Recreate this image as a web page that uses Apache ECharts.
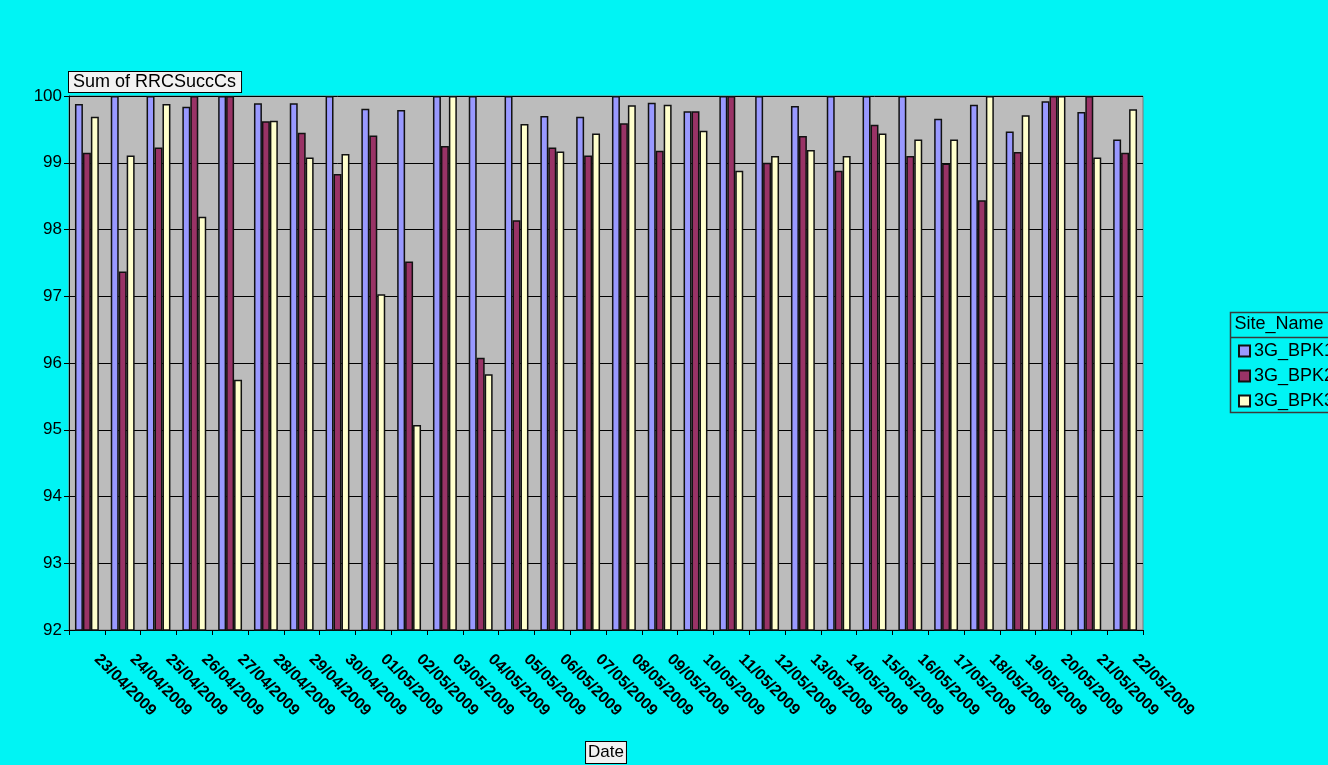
<!DOCTYPE html>
<html>
<head>
<meta charset="utf-8">
<title>Sum of RRCSuccCs</title>
<script src="https://cdn.jsdelivr.net/npm/echarts@6/dist/echarts.min.js"></script>
<style>
  html, body { margin: 0; padding: 0; background: #00f4f4; }
  #chart { width: 1328px; height: 765px; }
</style>
</head>
<body>
<div id="chart"></div>
<script>
// Daily RRC connection success rate (%) per site
const categories = [
  '23/04/2009', '24/04/2009', '25/04/2009', '26/04/2009', '27/04/2009', '28/04/2009',
  '29/04/2009', '30/04/2009', '01/05/2009', '02/05/2009', '03/05/2009', '04/05/2009',
  '05/05/2009', '06/05/2009', '07/05/2009', '08/05/2009', '09/05/2009', '10/05/2009',
  '11/05/2009', '12/05/2009', '13/05/2009', '14/05/2009', '15/05/2009', '16/05/2009',
  '17/05/2009', '18/05/2009', '19/05/2009', '20/05/2009', '21/05/2009', '22/05/2009'
];
const seriesNames = ['3G_BPK1', '3G_BPK2', '3G_BPK3'];
const bpk1 = [99.88, 100, 100, 99.84, 100, 99.89, 99.89, 100, 99.81, 99.79,
              100, 100, 100, 99.70, 99.69, 100, 99.90, 99.77, 100, 100,
              99.85, 100, 100, 100, 99.66, 99.87, 99.47, 99.92, 99.76, 99.35];
const bpk2 = [99.15, 97.37, 99.23, 100, 100, 99.62, 99.45, 98.83, 99.41, 97.52,
              99.25, 96.08, 98.14, 99.23, 99.11, 99.59, 99.18, 99.77, 100, 99.00,
              99.40, 98.88, 99.57, 99.10, 98.99, 98.44, 99.16, 100, 100, 99.15];
const bpk3 = [99.69, 99.11, 99.88, 98.19, 95.75, 99.63, 99.08, 99.13, 97.03, 95.07,
              100, 95.83, 99.58, 99.17, 99.44, 99.86, 99.87, 99.48, 98.88, 99.10,
              99.19, 99.10, 99.44, 99.35, 99.35, 100, 99.71, 100, 99.08, 99.80];
const yMin = 92, yMax = 100, yStep = 1;

const colors = ['#9999ff', '#993366', '#ffffcc'];
const FONT = '"Liberation Sans", Arial, sans-serif';

const chart = echarts.init(document.getElementById('chart'), null, { renderer: 'canvas' });

function barSeries(name, values, color) {
  return {
    name: name,
    type: 'bar',
    data: values,
    barGap: '0%',
    barCategoryGap: '33.3%',
    itemStyle: { color: color, borderColor: '#111', borderWidth: 1.5 },
    emphasis: { disabled: true },
    animation: false
  };
}

chart.setOption({
  backgroundColor: '#00f4f4',
  animation: false,
  textStyle: { fontFamily: FONT },
  grid: {
    left: 69, right: 185, top: 96, bottom: 135,
    containLabel: false,
    outerBoundsMode: 'none',
    show: true,
    backgroundColor: '#bcbcbc',
    borderColor: '#7a7a7a',
    borderWidth: 1
  },
  legend: {
    data: seriesNames,
    orient: 'vertical',
    left: 1233,
    top: 337,
    itemWidth: 11,
    itemHeight: 11,
    itemGap: 7,
    icon: 'rect',
    textStyle: { fontFamily: FONT, fontSize: 18, color: '#000', padding: [0, 0, 0, -1] },
    selectedMode: false
  },
  xAxis: {
    type: 'category',
    data: categories,
    name: 'Date',
    nameLocation: 'middle',
    nameGap: 112,
    nameTextStyle: {
      fontFamily: FONT, fontSize: 17, color: '#000',
      backgroundColor: '#f2f2f2', borderColor: '#000', borderWidth: 1,
      padding: [2, 2, 2, 2]
    },
    axisLine: { lineStyle: { color: '#000', width: 1 } },
    axisTick: { show: true, length: 5, lineStyle: { color: '#000' } },
    axisLabel: {
      interval: 0,
      rotate: -45,
      margin: 17,
      padding: [0, 0, 0, 14],
      fontFamily: FONT,
      fontSize: 16,
      fontWeight: 'bold',
      color: '#000'
    },
    splitLine: { show: false }
  },
  yAxis: {
    type: 'value',
    min: yMin,
    max: yMax,
    interval: yStep,
    name: 'Sum of RRCSuccCs',
    nameLocation: 'end',
    nameGap: 4,
    nameTextStyle: {
      fontFamily: FONT, fontSize: 18, color: '#000', align: 'left',
      verticalAlign: 'bottom',
      backgroundColor: '#f2f2f2', borderColor: '#000', borderWidth: 1,
      padding: [1, 5, 1, 4]
    },
    axisLine: { show: true, lineStyle: { color: '#000', width: 1 } },
    axisTick: { show: true, length: 5, lineStyle: { color: '#000' } },
    axisLabel: { fontFamily: FONT, fontSize: 17, color: '#000', margin: 7 },
    splitLine: { show: true, lineStyle: { color: '#000', width: 1 } }
  },
  graphic: [
    {
      type: 'group',
      left: 1228,
      top: 310,
      children: [
        { type: 'rect', shape: { x: 0, y: 0, width: 130, height: 100 },
          style: { fill: 'none', stroke: '#3a3a3a', lineWidth: 1.5 } },
        { type: 'line', shape: { x1: 0, y1: 25, x2: 130, y2: 25 },
          style: { stroke: '#3a3a3a', lineWidth: 1.5 } },
        { type: 'text', x: 4, y: 12,
          style: { text: 'Site_Name', font: '18px ' + FONT, fill: '#000', textVerticalAlign: 'middle' } }
      ]
    }
  ],
  series: [
    barSeries(seriesNames[0], bpk1, colors[0]),
    barSeries(seriesNames[1], bpk2, colors[1]),
    barSeries(seriesNames[2], bpk3, colors[2])
  ]
});
</script>
</body>
</html>
